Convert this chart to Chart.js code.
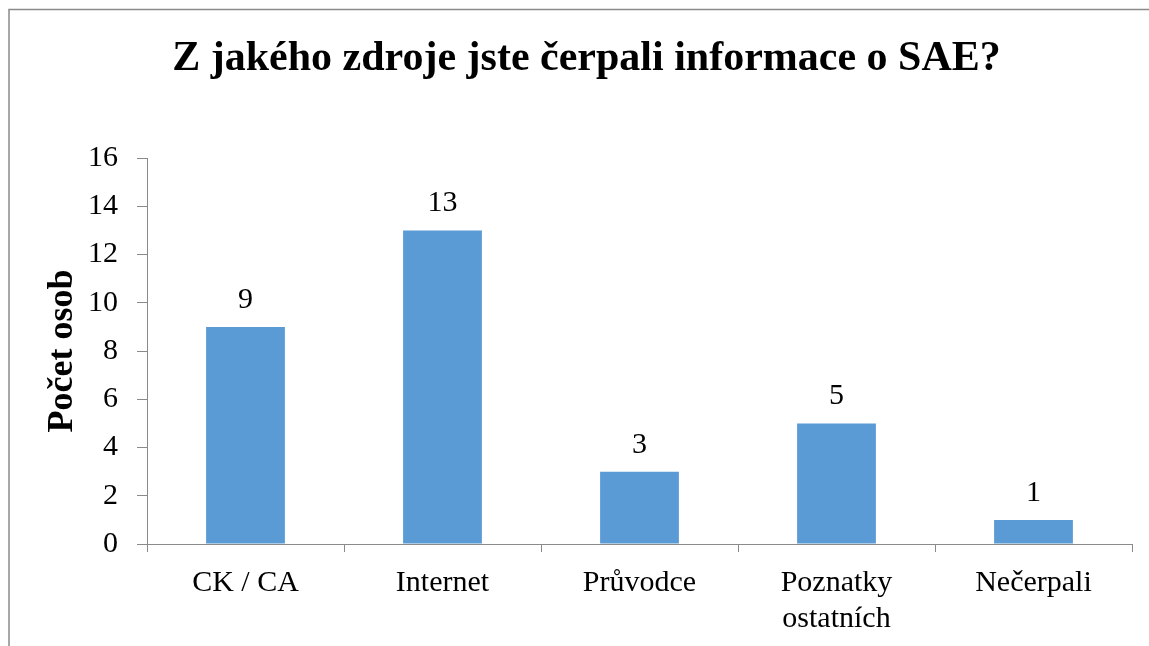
<!DOCTYPE html>
<html><head><meta charset="utf-8">
<script src="https://cdn.jsdelivr.net/npm/chart.js@4/dist/chart.umd.min.js"></script>
<style>html,body{margin:0;padding:0;background:#fff;}canvas{display:block;}</style>
</head><body>
<canvas id="c" width="1149" height="646"></canvas>
<script>
const titleText = 'Z jakého zdroje jste čerpali informace o SAE?';
const yAxisTitle = 'Počet osob';
const categories = [['CK / CA'], ['Internet'], ['Průvodce'], ['Poznatky', 'ostatních'], ['Nečerpali']];
const values = [9, 13, 3, 5, 1];
const yTicks = [0, 2, 4, 6, 8, 10, 12, 14, 16];

const FONT = "'Liberation Serif', 'Times New Roman', serif";

const frame = {
  id: 'frame',
  beforeDraw(chart) {
    const ctx = chart.ctx;
    ctx.save();
    ctx.fillStyle = '#fff';
    ctx.fillRect(0, 0, chart.width, chart.height);
    ctx.strokeStyle = '#8a8a8a';
    ctx.lineWidth = 1.5;
    ctx.strokeRect(9, 9.5, 1300, 800);
    ctx.restore();
  }
};

const valueLabels = {
  id: 'valueLabels',
  afterDatasetsDraw(chart) {
    const ctx = chart.ctx;
    const meta = chart.getDatasetMeta(0);
    ctx.save();
    ctx.font = '30px ' + FONT;
    ctx.fillStyle = '#000';
    ctx.textAlign = 'center';
    ctx.textBaseline = 'alphabetic';
    meta.data.forEach((bar, i) => {
      ctx.fillText(String(chart.data.datasets[0].data[i]), bar.x, bar.y - 19);
    });
    ctx.restore();
  }
};

new Chart(document.getElementById('c'), {
  type: 'bar',
  data: {
    labels: categories,
    datasets: [{
      data: values,
      backgroundColor: '#5B9BD5',
      categoryPercentage: 1,
      barPercentage: 0.4
    }]
  },
  options: {
    responsive: false,
    animation: false,
    layout: { padding: { left: 41, right: 17, top: 0, bottom: 10 } },
    plugins: {
      legend: { display: false },
      tooltip: { enabled: false },
      title: {
        display: true,
        text: titleText,
        color: '#000',
        font: { family: FONT, size: 42, weight: 'bold' },
        padding: { top: 34, bottom: 73.6 }
      }
    },
    scales: {
      x: {
        afterFit(scale) { scale.height = 92; },
        grid: { display: true, drawOnChartArea: false, drawTicks: true, tickLength: 8, color: '#8a8a8a', offset: true },
        border: { display: true, color: '#8a8a8a', width: 1 },
        ticks: { color: '#000', font: { family: FONT, size: 30, lineHeight: 1.2 }, padding: 13, maxRotation: 0, autoSkip: false }
      },
      y: {
        min: 0, max: 16,
        afterFit(scale) { scale.width = 106; },
        afterBuildTicks(scale) { scale.ticks = yTicks.map(v => ({ value: v })); },
        grid: { display: true, drawOnChartArea: false, drawTicks: true, tickLength: 10, color: '#8a8a8a' },
        border: { display: true, color: '#8a8a8a', width: 1 },
        ticks: { color: '#000', font: { family: FONT, size: 30 }, padding: 19 },
        title: { display: true, text: yAxisTitle, color: '#000', font: { family: FONT, size: 36, weight: 'bold', lineHeight: 1.2 }, padding: { top: 0, bottom: 7 } }
      }
    }
  },
  plugins: [frame, valueLabels]
});
</script>
</body></html>
